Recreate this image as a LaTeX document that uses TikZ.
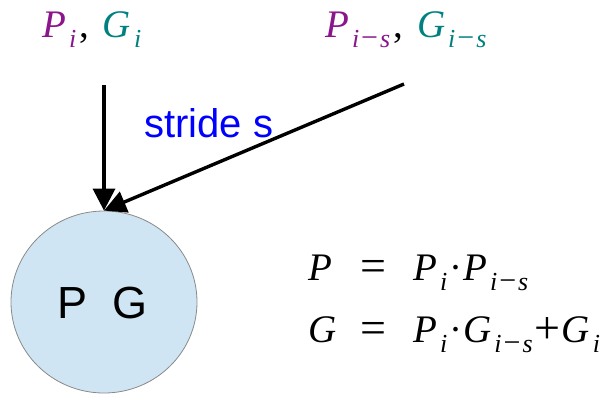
\documentclass[tikz,border=0pt]{standalone}
\usepackage{fontspec}
\setmainfont{Liberation Serif}
\setsansfont{Liberation Sans}
\usetikzlibrary{arrows.meta,shapes.geometric}
\definecolor{pcol}{HTML}{8B158B}
\definecolor{gcol}{HTML}{008080}
\definecolor{cfill}{HTML}{CFE5F3}
\definecolor{cedge}{HTML}{8A8A8A}
\newcommand\sbx[1]{\hspace{3pt}\raisebox{-10pt}{\fontsize{26}{26}\selectfont #1}}
\newcommand\ims{\textit{i}\hspace{2pt}{\fontsize{30}{30}\selectfont −}\hspace{2pt}\textit{s}}
\newcommand\bigop[1]{\raisebox{-1.5pt}{\fontsize{46}{46}\selectfont #1}}
\begin{document}
\begin{tikzpicture}[x=1pt,y=-1pt,
  mathtxt/.style={inner sep=0pt,anchor=base west,font=\fontsize{39}{41}\selectfont},
  sanstxt/.style={inner sep=0pt,font=\sffamily\fontsize{40}{42}\selectfont},
  arr/.style={line width=3.4pt,-{Triangle[width=22pt,length=22pt]}}]
\useasboundingbox (0,0) rectangle (611,394);
\node[ellipse,draw=cedge,line width=0.8pt,fill=cfill,minimum width=186pt,minimum height=182pt,inner sep=0pt] (circ) at (104,302) {};
\node[sanstxt,anchor=base,font=\sffamily\fontsize{45}{47}\selectfont] (pg) at (103,318) {P\ \ G};
% top labels
\node[mathtxt] (lab1) at (42,37) {\textcolor{pcol}{\textit{P}\sbx{\textit{i}}}\hspace{3pt},\hspace{14pt}\textcolor{gcol}{\textit{G}\sbx{\textit{i}}}};
\node[mathtxt] (lab2) at (325,37) {\textcolor{pcol}{\textit{P}\sbx{\ims}}\hspace{3pt},\hspace{14pt}\textcolor{gcol}{\textit{G}\sbx{\ims}}};
% arrows
\coordinate (s1) at (104,85);
\coordinate (s2) at (404,84);
\draw[arr] (s1) -- (circ.north);
\draw[arr] (s2) -- (circ.north);
\node[sanstxt,anchor=base west,text=blue] (stride) at (144,137) {stride s};
% equations
\node[mathtxt] (e1l) at (308,280) {\textit{P}};
\node[mathtxt] (e1q) at (360,280) {\bigop{=}};
\node[mathtxt] (e1r) at (413,280) {\textit{P}\sbx{\textit{i}}\hspace{2pt}·\hspace{1pt}\textit{P}\sbx{\ims}};
\node[mathtxt] (e2l) at (308,342) {\textit{G}};
\node[mathtxt] (e2q) at (360,342) {\bigop{=}};
\node[mathtxt] (e2r) at (413,342) {\textit{P}\sbx{\textit{i}}\hspace{2pt}·\hspace{1pt}\textit{G}\sbx{\ims}\hspace{2pt}\bigop{+}\hspace{1pt}\textit{G}\sbx{\textit{i}}};
\end{tikzpicture}
\end{document}
